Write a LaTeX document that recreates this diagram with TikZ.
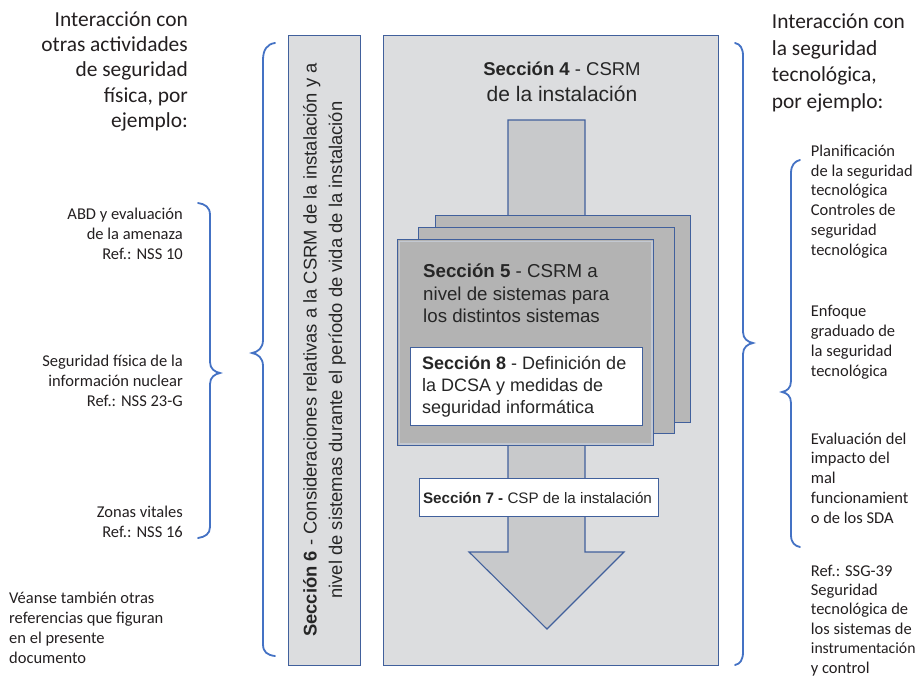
\documentclass[tikz,border=0pt]{standalone}
\usepackage{fontspec}
\setmainfont{Liberation Sans}
\newfontfamily\calfont{Carlito}
\definecolor{bracecol}{HTML}{4472C4}
\definecolor{edgecol}{HTML}{41609C}
\definecolor{panel}{HTML}{DCDDDF}
\definecolor{shaftfill}{HTML}{C8C9CB}
\definecolor{sheetfill}{HTML}{B7B7B7}
\definecolor{frontfill}{HTML}{B3B3B3}
\definecolor{ink}{HTML}{231F20}
\definecolor{boxink}{HTML}{262626}
\tikzset{
  panelbox/.style={draw=edgecol, line width=1.1pt, fill=panel, inner sep=0pt, anchor=north west},
  sheetbox/.style={draw=edgecol, line width=1.1pt, fill=sheetfill, inner sep=0pt, anchor=north west},
  whitebox/.style={draw=edgecol, line width=1.1pt, fill=white, inner sep=0pt, anchor=north west},
  arrowbody/.style={draw=edgecol, line width=1.1pt, fill=shaftfill, line join=miter},
  brace/.style={draw=bracecol, line width=1.8pt, line cap=round},
  heading/.style={font=\calfont\fontsize{21.4}{25.4}\selectfont, text=ink, inner sep=0pt},
  note/.style={font=\calfont\fontsize{16.5}{19.7}\selectfont, text=ink, inner sep=0pt},
  boxtext/.style={font=\fontsize{18.5}{22.5}\selectfont, text=boxink, inner sep=0pt},
}
\begin{document}
\begin{tikzpicture}[x=1pt,y=-1pt]
\useasboundingbox (0,0) rectangle (916,678);

% panels
\node[panelbox, minimum width=72, minimum height=630] (sec6box) at (288,35) {};
\node[panelbox, minimum width=335, minimum height=630] (sec4box) at (383,35) {};

% downward flow arrow
\draw[arrowbody] (508,120) -- (585,120) -- (585,552) -- (624,552) -- (547,629)
  -- (469,552) -- (508,552) -- cycle;

% stacked system sheets
\node[sheetbox, minimum width=255, minimum height=207] (sheetback) at (435,215) {};
\node[sheetbox, minimum width=256, minimum height=206] (sheetmid) at (418,227) {};
\node[sheetbox, fill=frontfill, minimum width=256, minimum height=206] (sheetfront) at (397,239) {};
\draw[draw=white!75!edgecol, opacity=0.6, line width=1.2pt]
  ([shift={(2.2pt,2.2pt)}]sheetfront.south west) rectangle ([shift={(-2.2pt,-2.2pt)}]sheetfront.north east);

\node[whitebox, minimum width=232, minimum height=78] (sec8box) at (410,347) {};
\node[whitebox, minimum width=239, minimum height=38] (sec7box) at (419,478) {};

% box texts (base anchor = baseline of the last line)
\node[boxtext, anchor=base] (sec4top) at (562,75) {\textbf{Sección 4} - CSRM};
\node[boxtext, font=\fontsize{21}{26}\selectfont, anchor=base] (sec4bot) at (562,101.7) {de la instalación};
\node[boxtext, font=\fontsize{18.7}{22.4}\selectfont, align=left, anchor=base west] (sec5txt) at (423,322.7)
  {\textbf{Sección 5} - CSRM a\\nivel de sistemas para\\los distintos sistemas};
\node[boxtext, font=\fontsize{18}{21.7}\selectfont, align=left, anchor=base west] (sec8txt) at (422,413.3)
  {\textbf{Sección 8} - Definición de\\la DCSA y medidas de\\seguridad informática};
\node[boxtext, font=\fontsize{15.2}{18}\selectfont, anchor=base] (sec7txt) at (537.5,503.3)
  {\textbf{Sección 7 -} CSP de la instalación};
\node[boxtext, rotate=90, align=center, anchor=base, font=\fontsize{18.4}{25.3}\selectfont] (sec6txt) at (342,350)
  {\textbf{Sección 6} - Consideraciones relativas a la CSRM de la instalación y a\\nivel de sistemas durante el período de vida de la instalación};

% left column
\node[heading, align=right, anchor=base east] (lefthead) at (188,127.6)
  {Interacción con\\otras actividades\\de seguridad\\física, por\\ejemplo:};
\node[note, align=right, anchor=base east] (abd) at (183,259)
  {ABD y evaluación\\de la amenaza\\Ref.: NSS 10};
\node[note, align=right, anchor=base east] (infonuc) at (183,406)
  {Seguridad física de la\\información nuclear\\Ref.: NSS 23-G};
\node[note, align=right, anchor=base east] (zonas) at (183,537)
  {Zonas vitales\\Ref.: NSS 16};
\node[note, align=left, anchor=base west] (veanse) at (9,663)
  {Véanse también otras\\referencias que figuran\\en el presente\\documento};

% right column
\node[heading, font=\calfont\fontsize{21.4}{26.7}\selectfont, align=left, anchor=base west] (righthead) at (771.7,108.5)
  {Interacción con\\la seguridad\\tecnológica,\\por ejemplo:};
\node[note, align=left, anchor=base west] (planif) at (810.7,255)
  {Planificación\\de la seguridad\\tecnológica\\Controles de\\seguridad\\tecnológica};
\node[note, align=left, anchor=base west] (enfoque) at (810.7,376)
  {Enfoque\\graduado de\\la seguridad\\tecnológica};
\node[note, align=left, anchor=base west] (evalua) at (810.7,523)
  {Evaluación del\\impacto del\\mal\\funcionamient\\o de los SDA};
\node[note, font=\calfont\fontsize{16.5}{19.4}\selectfont, align=left, anchor=base west] (ssg) at (810.7,673)
  {Ref.: SSG-39\\Seguridad\\tecnológica de\\los sistemas de\\{\fontsize{15.7}{19.4}\selectfont instrumentación}\\y control};

% braces
\draw[brace] (275,43) .. controls (267,44) and (263,50) .. (263,60) -- (263,340)
  .. controls (263,348) and (258,352) .. (252,353)
  .. controls (258,354) and (263,358) .. (263,366) -- (263,644)
  .. controls (263,652) and (267,655) .. (275,656);
\draw[brace] (198,203) .. controls (205,204) and (210,207) .. (210,215) -- (210,362)
  .. controls (210,369) and (215,372) .. (220,373)
  .. controls (215,374) and (210,377) .. (210,384) -- (210,527)
  .. controls (210,534) and (205,537) .. (198,538);
\draw[brace] (735,43) .. controls (740,44) and (743,48) .. (743,56) -- (743,332)
  .. controls (743,339) and (748,342) .. (753,343)
  .. controls (748,344) and (743,347) .. (743,354) -- (743,652)
  .. controls (743,660) and (740,664) .. (735,665);
\draw[brace] (800,160) .. controls (795,161) and (791,165) .. (791,173) -- (791,381)
  .. controls (791,388) and (787,391) .. (782,392)
  .. controls (787,393) and (791,396) .. (791,403) -- (791,535)
  .. controls (791,543) and (795,546) .. (800,547);
\end{tikzpicture}
\end{document}
